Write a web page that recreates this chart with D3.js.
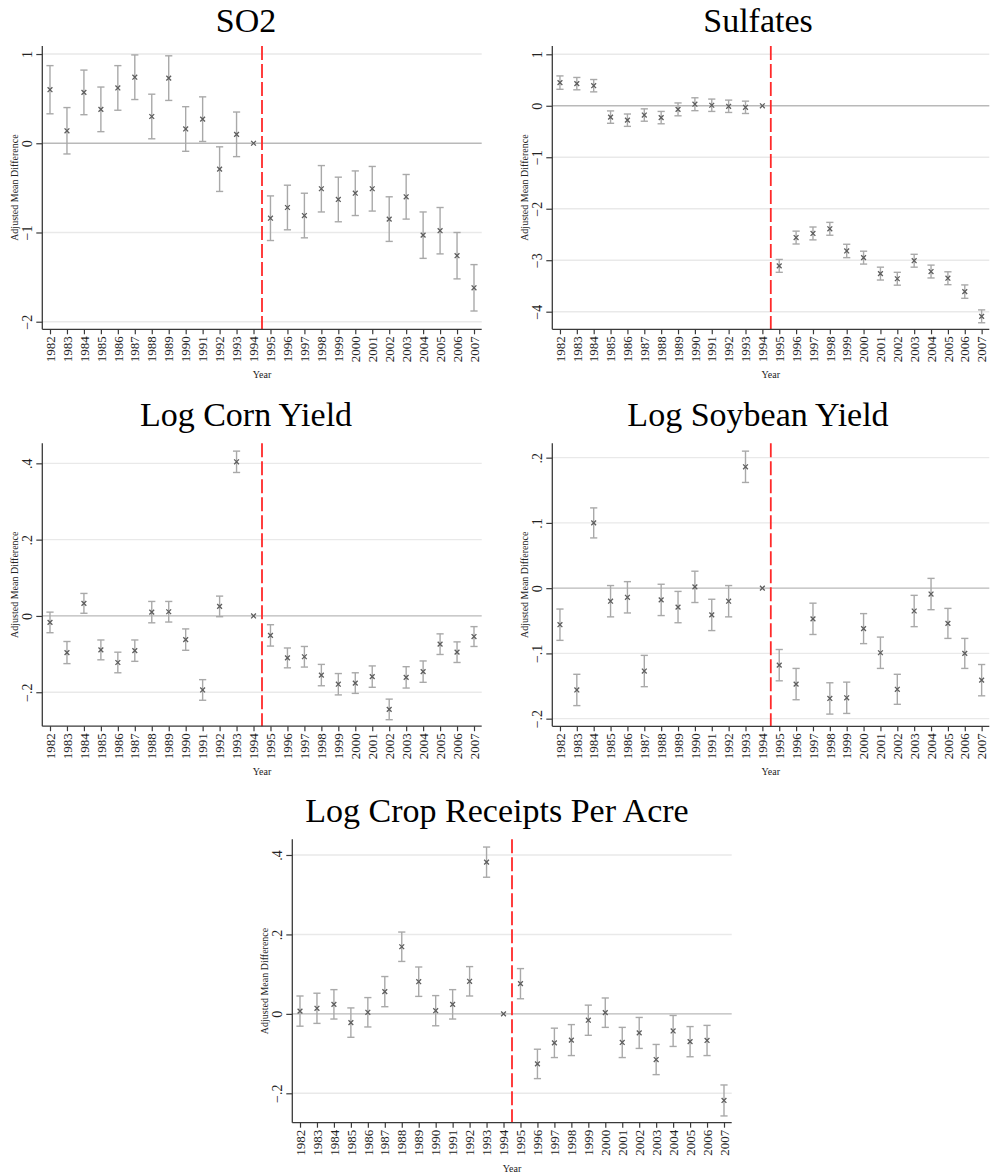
<!DOCTYPE html>
<html>
<head>
<meta charset="utf-8">
<script src="https://cdn.jsdelivr.net/npm/d3@7"></script>
<style>
  html, body { margin: 0; padding: 0; background: #fff; }
  svg { display: block; }
  text { font-family: "Liberation Serif", "DejaVu Serif", serif; }
</style>
</head>
<body>
<svg id="chart" width="990" height="1176"></svg>
<script>
// ---------------- DATA ----------------
const years = [1982,1983,1984,1985,1986,1987,1988,1989,1990,1991,1992,1993,1994,
               1995,1996,1997,1998,1999,2000,2001,2002,2003,2004,2005,2006,2007];

const so2Est  = [0.60, 0.14, 0.57, 0.38, 0.62, 0.74, 0.30, 0.73, 0.16, 0.27, -0.29, 0.10, 0,
                 -0.84, -0.72, -0.81, -0.51, -0.63, -0.56, -0.51, -0.85, -0.60, -1.03, -0.98, -1.26, -1.62];
const so2Half = [0.27, 0.26, 0.25, 0.25, 0.25, 0.25, 0.25, 0.25, 0.25, 0.25, 0.25, 0.25, 0,
                 0.25, 0.25, 0.25, 0.26, 0.25, 0.25, 0.25, 0.25, 0.25, 0.26, 0.26, 0.26, 0.26];

const sulfEst  = [0.45, 0.43, 0.39, -0.22, -0.28, -0.18, -0.23, -0.07, 0.03, 0.01, -0.01, -0.03, 0,
                  -3.11, -2.56, -2.48, -2.39, -2.82, -2.95, -3.26, -3.36, -3.01, -3.22, -3.35, -3.61, -4.09];
const sulfHalf = [0.13, 0.12, 0.12, 0.12, 0.12, 0.12, 0.12, 0.125, 0.125, 0.12, 0.12, 0.12, 0,
                  0.125, 0.125, 0.125, 0.125, 0.13, 0.125, 0.125, 0.125, 0.125, 0.125, 0.125, 0.13, 0.125];

const cornEst  = [-0.017, -0.096, 0.033, -0.089, -0.122, -0.091, 0.010, 0.011, -0.062, -0.194, 0.025, 0.404, 0,
                  -0.051, -0.110, -0.107, -0.155, -0.179, -0.176, -0.159, -0.245, -0.161, -0.146, -0.074, -0.095, -0.054];
const cornHalf = [0.027, 0.029, 0.026, 0.026, 0.027, 0.028, 0.028, 0.027, 0.028, 0.027, 0.027, 0.028, 0,
                  0.028, 0.026, 0.027, 0.028, 0.028, 0.027, 0.028, 0.027, 0.028, 0.028, 0.027, 0.027, 0.026];

const soyEst  = [-0.056, -0.156, 0.100, -0.020, -0.014, -0.127, -0.018, -0.029, 0.002, -0.041, -0.020, 0.186, 0,
                 -0.118, -0.147, -0.047, -0.169, -0.168, -0.062, -0.099, -0.155, -0.035, -0.009, -0.054, -0.100, -0.141];
const soyHalf = [0.024, 0.024, 0.023, 0.024, 0.024, 0.024, 0.024, 0.024, 0.024, 0.024, 0.024, 0.024, 0,
                 0.024, 0.024, 0.024, 0.024, 0.024, 0.023, 0.024, 0.023, 0.024, 0.024, 0.023, 0.023, 0.024];

const cropEst  = [0.007, 0.014, 0.024, -0.022, 0.004, 0.056, 0.169, 0.081, 0.008, 0.024, 0.082, 0.382, 0,
                  0.076, -0.126, -0.073, -0.066, -0.016, 0.003, -0.072, -0.048, -0.115, -0.043, -0.070, -0.067, -0.218];
const cropHalf = [0.038, 0.038, 0.037, 0.037, 0.037, 0.038, 0.037, 0.037, 0.038, 0.037, 0.037, 0.038, 0,
                  0.038, 0.037, 0.037, 0.039, 0.038, 0.037, 0.038, 0.039, 0.038, 0.039, 0.038, 0.038, 0.039];

const so2Ticks  = [-2, -1, 0, 1];
const sulfTicks = [-4, -3, -2, -1, 0, 1];
const cornTicks = [-0.2, 0, 0.2, 0.4];
const soyTicks  = [-0.2, -0.1, 0, 0.1, 0.2];
const cropTicks = [-0.2, 0, 0.2, 0.4];

const titles = ["SO2", "Sulfates", "Log Corn Yield", "Log Soybean Yield", "Log Crop Receipts Per Acre"];
const yAxisTitle = "Adjusted Mean Difference";
const xAxisTitle = "Year";

// ---------------- LAYOUT ----------------
const panels = [
  {title: titles[0], est: so2Est,  half: so2Half,  ticks: so2Ticks,  dom: [-2.085, 1.09],
   x0: 42.3,  w: 439.4, top: 46,    bot: 329.3,  titleX: 246, titleY: 32},
  {title: titles[1], est: sulfEst, half: sulfHalf, ticks: sulfTicks, dom: [-4.342, 1.161],
   x0: 552.3, w: 437.0, top: 46,    bot: 329.3,  titleX: 758, titleY: 32},
  {title: titles[2], est: cornEst, half: cornHalf, ticks: cornTicks, dom: [-0.289, 0.4525],
   x0: 42.3,  w: 439.4, top: 443.3, bot: 726.2,  titleX: 246, titleY: 426},
  {title: titles[3], est: soyEst,  half: soyHalf,  ticks: soyTicks,  dom: [-0.2117, 0.222],
   x0: 552.3, w: 437.0, top: 443.3, bot: 726.3,  titleX: 758, titleY: 426},
  {title: titles[4], est: cropEst, half: cropHalf, ticks: cropTicks, dom: [-0.274, 0.4395],
   x0: 292.3, w: 439.4, top: 839.3, bot: 1122.7, titleX: 497, titleY: 822}
];

const fmt = v => {
  if (v === 0) return "0";
  let s = String(Math.abs(+v.toFixed(3)));
  if (s.startsWith("0.")) s = s.slice(1);
  return (v < 0 ? "\u2212" : "") + s;
};

const svg = d3.select("#chart");

const COL_GRID = "#e9e9e9", COL_ZERO = "#b9b9b9", COL_AXIS = "#3a3a3a",
      COL_BAR = "#a9a9a9", COL_MARK = "#5e5e5e", COL_RED = "#ff2a2a";

panels.forEach(p => {
  const g = svg.append("g");
  const x1 = p.x0 + p.w;
  const x = d3.scalePoint().domain(years).range([p.x0, x1]).padding(0.454);
  const y = d3.scaleLinear().domain(p.dom).range([p.bot, p.top]);

  // title
  g.append("text").attr("x", p.titleX).attr("y", p.titleY)
    .attr("text-anchor", "middle").attr("font-size", 34).attr("fill", "#000")
    .text(p.title);

  // gridlines
  g.selectAll(".grid").data(p.ticks.filter(t => t !== 0)).enter().append("line")
    .attr("x1", p.x0).attr("x2", x1)
    .attr("y1", d => y(d)).attr("y2", d => y(d))
    .attr("stroke", COL_GRID).attr("stroke-width", 1.4);

  // zero line
  g.append("line").attr("x1", p.x0).attr("x2", x1)
    .attr("y1", y(0)).attr("y2", y(0))
    .attr("stroke", COL_ZERO).attr("stroke-width", 1.3);

  // policy line
  const xb = (x(1994) + x(1995)) / 2;
  g.append("line").attr("x1", xb).attr("x2", xb)
    .attr("y1", p.top).attr("y2", p.bot)
    .attr("stroke", COL_RED).attr("stroke-width", 1.8)
    .attr("stroke-dasharray", "14,4");

  // Y axis
  const yAxis = d3.axisLeft(y).tickValues(p.ticks).tickSize(6).tickFormat(fmt);
  const ya = g.append("g").attr("transform", `translate(${p.x0},0)`).call(yAxis);
  ya.select(".domain").attr("d", `M0,${p.top}V${p.bot}`).attr("stroke", COL_AXIS).attr("stroke-width", 1.3);
  ya.selectAll(".tick line").attr("stroke", COL_AXIS).attr("stroke-width", 1.2);
  ya.selectAll(".tick text")
    .attr("x", null).attr("dy", null)
    .attr("transform", "translate(-10,0) rotate(-90)")
    .attr("text-anchor", "middle")
    .attr("font-size", 14).attr("fill", "#222")
    .attr("font-family", "Liberation Serif, serif");

  // X axis
  const xAxis = d3.axisBottom(x).tickSize(5).tickFormat(d => String(d));
  const xa = g.append("g").attr("transform", `translate(0,${p.bot})`).call(xAxis);
  xa.select(".domain").attr("d", `M${p.x0},0H${x1}`).attr("stroke", COL_AXIS).attr("stroke-width", 1.3);
  xa.selectAll(".tick line").attr("stroke", COL_AXIS).attr("stroke-width", 1.2);
  xa.selectAll(".tick text")
    .attr("y", null).attr("dy", null)
    .attr("transform", "translate(4.2,7) rotate(-90)")
    .attr("text-anchor", "end")
    .attr("font-size", 13).attr("fill", "#222")
    .attr("font-family", "Liberation Serif, serif");

  // axis titles
  g.append("text")
    .attr("transform", `translate(${p.x0 - 24},${(p.top + p.bot) / 2}) rotate(-90)`)
    .attr("text-anchor", "middle").attr("font-size", 10).attr("fill", "#222")
    .text(yAxisTitle);
  g.append("text")
    .attr("x", (x(1994) + x(1995)) / 2).attr("y", p.bot + 49)
    .attr("text-anchor", "middle").attr("font-size", 10).attr("fill", "#222")
    .text(xAxisTitle);

  // error bars
  const rows = years.map((yr, i) => ({yr, est: p.est[i], lo: p.est[i] - p.half[i], hi: p.est[i] + p.half[i]}));
  const cap = 3.6;
  const eb = g.append("g").attr("stroke", COL_BAR).attr("stroke-width", 1.4).attr("fill", "none");
  rows.forEach(r => {
    if (r.hi === r.lo) return;
    const cx = x(r.yr);
    eb.append("line").attr("x1", cx).attr("x2", cx).attr("y1", y(r.hi)).attr("y2", y(r.lo));
    eb.append("line").attr("x1", cx - cap).attr("x2", cx + cap).attr("y1", y(r.hi)).attr("y2", y(r.hi));
    eb.append("line").attr("x1", cx - cap).attr("x2", cx + cap).attr("y1", y(r.lo)).attr("y2", y(r.lo));
  });

  // markers (x)
  const m = 2.4;
  g.append("g").selectAll("path").data(rows).enter().append("path")
    .attr("d", r => {
      const cx = x(r.yr), cy = y(r.est);
      return `M${cx - m},${cy - m}L${cx + m},${cy + m}M${cx - m},${cy + m}L${cx + m},${cy - m}`;
    })
    .attr("stroke", COL_MARK).attr("stroke-width", 1.3).attr("fill", "none");
});
</script>
</body>
</html>
